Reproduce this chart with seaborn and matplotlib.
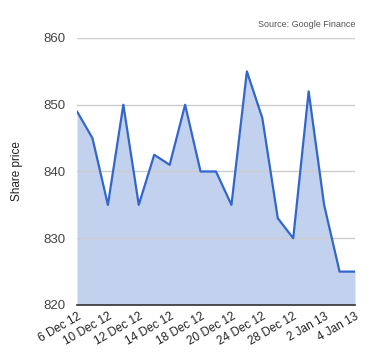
import matplotlib
matplotlib.use("Agg")
import matplotlib.pyplot as plt
import seaborn as sns
import pandas as pd
import numpy as np

dates = ["6 Dec 12", "7 Dec 12", "10 Dec 12", "11 Dec 12", "12 Dec 12", "13 Dec 12",
         "14 Dec 12", "17 Dec 12", "18 Dec 12", "19 Dec 12", "20 Dec 12", "21 Dec 12",
         "24 Dec 12", "27 Dec 12", "28 Dec 12", "31 Dec 12", "2 Jan 13", "3 Jan 13", "4 Jan 13"]
prices = [849, 845, 835, 850, 835, 842.5, 841, 850, 840, 840, 835, 855, 848, 833, 830,
          852, 835, 825, 825]
yticks = [820, 830, 840, 850, 860]

sns.set_theme(style="white")
plt.rcParams['font.family'] = ['Liberation Sans', 'DejaVu Sans']

df = pd.DataFrame({"idx": np.arange(len(dates)), "date": dates, "price": prices})

fig = plt.figure(figsize=(3.8, 3.6), dpi=100)
ax = fig.add_axes([77/380, 1-305/360, (355-77)/380, (305-38)/360])

ax.fill_between(df["idx"], df["price"], 820, color="#c2d1ee", lw=0, zorder=1)
sns.lineplot(data=df, x="idx", y="price", ax=ax, color="#3366cc", lw=1.6, zorder=3)

ax.set_xlim(0, len(dates) - 1)
ax.set_ylim(820, 860)
ax.set_yticks(yticks)
ax.set_yticklabels([str(v) for v in yticks], fontsize=9.5, color="#444444")
tick_idx = list(range(0, len(dates), 2))
ax.set_xticks(tick_idx)
ax.set_xticklabels([dates[i] for i in tick_idx], rotation=30, ha="right",
                   rotation_mode="anchor", fontsize=8.5, color="#222222")
ax.tick_params(axis="both", length=0, pad=8)
ax.tick_params(axis="x", pad=4)

for y in yticks[1:]:
    ax.axhline(y, color="#cccccc", lw=1, zorder=2)
for s in ["top", "right", "left"]:
    ax.spines[s].set_visible(False)
ax.spines["bottom"].set_color("#333333")
ax.spines["bottom"].set_linewidth(1.2)
ax.spines["bottom"].set_zorder(4)

ax.set_xlabel("")
ax.set_ylabel("Share price", fontsize=8.5, color="#222222", labelpad=15)
ax.text(1.0, 1.035, "Source: Google Finance", transform=ax.transAxes, ha="right",
        va="bottom", fontsize=6.5, color="#555555")

fig.savefig("out.png", dpi=100)
